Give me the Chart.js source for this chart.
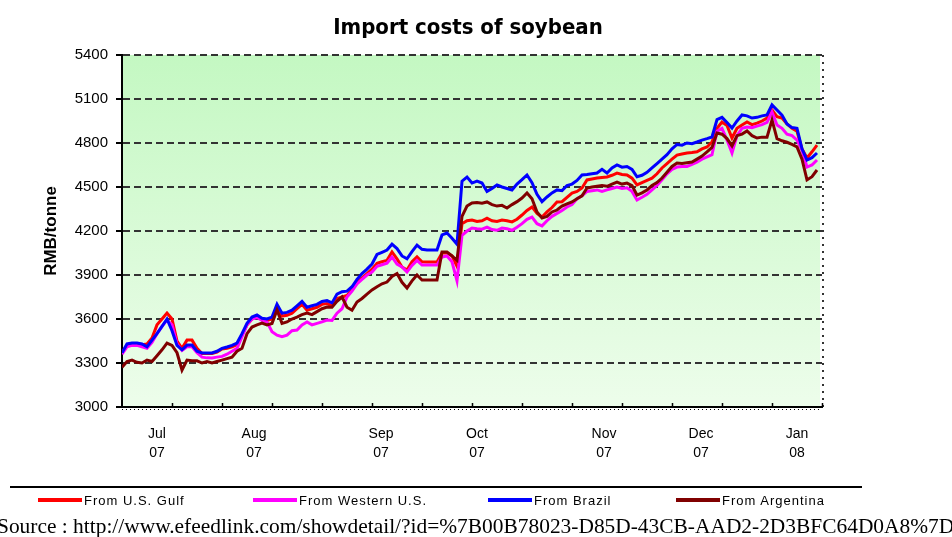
<!DOCTYPE html>
<html>
<head>
<meta charset="utf-8">
<script src="https://cdn.jsdelivr.net/npm/chart.js@4/dist/chart.umd.min.js"></script>
<style>
html,body{margin:0;padding:0;background:#fff;}
#wrap{position:relative;width:952px;height:537px;overflow:hidden;background:#fff;}
#c{position:absolute;left:0;top:0;}
#title{position:absolute;top:14px;left:0;width:936px;text-align:center;line-height:26px;font-weight:bold;font-size:22px;font-family:"DejaVu Sans Condensed","DejaVu Sans",sans-serif;color:#000;white-space:nowrap;}
#sep{position:absolute;left:10px;top:486px;width:852px;height:2px;background:#000;}
.lg{position:absolute;top:492px;height:16px;display:flex;align-items:center;font-family:"Liberation Sans",Arial,sans-serif;font-size:13px;letter-spacing:1px;color:#000;white-space:nowrap;}
.lg span.ln{display:inline-block;width:44px;height:4px;margin-right:2px;}
#src{position:absolute;left:-3px;top:516px;font-family:"Liberation Serif","Times New Roman",serif;font-size:18px;line-height:20px;white-space:nowrap;color:#000;}
</style>
</head>
<body>
<div id="wrap">
  <canvas id="c" width="952" height="537"></canvas>
  <div id="title">Import costs of soybean</div>
  <div id="sep"></div>
  <div id="legend"></div>
  <div id="src">Source : http://www.efeedlink.com/showdetail/?id=%7B00B78023-D85D-43CB-AAD2-2D3BFC64D0A8%7D</div>
</div>
<script>
// ---- data (RMB/tonne, trading-day samples from late June 2007 to early Jan 2008) ----
const seriesNames = ["From U.S. Gulf", "From Western U.S.", "From Brazil", "From Argentina"];
const seriesColors = ["#ff0000", "#ff00ff", "#0000ff", "#800000"];

const usGulf = [
3370,3420,3430,3430,3425,3430,3470,3560,3600,3640,
3600,3450,3400,3456,3456,3400,3365,3365,3365,3375,
3395,3400,3410,3425,3490,3560,3600,3615,3595,3590,
3600,3680,3620,3625,3640,3670,3700,3660,3670,3680,
3700,3705,3690,3740,3750,3760,3800,3850,3880,3910,
3940,3980,3990,4000,4057,4010,3955,3934,3990,4023,
3990,3989,3989,3989,4050,4050,4030,3960,4250,4270,
4275,4265,4270,4288,4270,4265,4275,4270,4262,4280,
4309,4340,4364,4320,4295,4330,4360,4398,4400,4430,
4459,4470,4493,4548,4555,4561,4565,4568,4580,4595,
4585,4582,4560,4514,4530,4545,4560,4590,4630,4660,
4690,4718,4725,4732,4735,4740,4760,4773,4807,4900,
4943,4920,4834,4900,4923,4943,4925,4935,4950,4970,
5025,4980,4970,4930,4900,4880,4760,4698,4740,4786];

const westernUS = [
3360,3410,3420,3420,3410,3400,3440,3500,3550,3593,
3560,3430,3385,3410,3410,3370,3340,3335,3334,3340,
3345,3360,3380,3400,3480,3560,3600,3610,3590,3580,
3513,3490,3480,3490,3520,3525,3560,3580,3560,3570,
3580,3593,3590,3640,3670,3750,3790,3840,3870,3900,
3920,3960,3970,3980,4023,3975,3955,3920,3965,4000,
3968,3968,3968,3968,4023,4030,3990,3860,4170,4200,
4220,4215,4212,4227,4210,4205,4220,4215,4205,4225,
4250,4280,4295,4250,4235,4270,4300,4320,4340,4364,
4380,4420,4440,4470,4475,4480,4470,4480,4490,4500,
4490,4495,4470,4411,4430,4450,4480,4510,4550,4590,
4620,4636,4640,4640,4655,4670,4690,4705,4720,4880,
4900,4820,4732,4850,4900,4909,4905,4915,4925,4940,
5011,4923,4900,4860,4850,4820,4750,4636,4650,4684];

const brazil = [
3370,3430,3436,3436,3430,3410,3456,3500,3550,3600,
3520,3420,3390,3422,3422,3380,3368,3368,3368,3380,
3400,3409,3420,3436,3500,3570,3613,3627,3605,3600,
3613,3700,3640,3645,3660,3690,3720,3680,3690,3700,
3720,3725,3710,3770,3786,3790,3820,3870,3910,3940,
3975,4040,4055,4070,4110,4080,4030,4010,4060,4104,
4075,4070,4070,4070,4173,4186,4150,4110,4540,4568,
4527,4540,4527,4470,4490,4514,4500,4490,4480,4520,
4550,4582,4530,4450,4400,4432,4460,4480,4475,4510,
4520,4545,4582,4585,4590,4595,4620,4595,4630,4650,
4635,4640,4620,4570,4580,4600,4630,4660,4690,4720,
4760,4790,4785,4800,4795,4807,4820,4830,4841,4960,
4975,4940,4902,4950,4991,4985,4970,4975,4985,4991,
5060,5025,4990,4930,4905,4900,4760,4684,4700,4732];

const argentina = [
3270,3310,3320,3305,3300,3320,3310,3350,3390,3436,
3420,3370,3252,3320,3315,3315,3300,3310,3300,3310,
3320,3330,3340,3380,3400,3500,3545,3560,3572,3560,
3570,3661,3570,3580,3600,3613,3630,3640,3630,3650,
3670,3682,3680,3720,3750,3680,3660,3716,3740,3770,
3798,3820,3840,3852,3890,3910,3850,3811,3860,3900,
3866,3866,3866,3866,4057,4057,4030,4000,4300,4370,
4391,4395,4390,4398,4380,4370,4375,4357,4380,4400,
4425,4459,4420,4330,4288,4300,4330,4343,4370,4385,
4398,4420,4440,4493,4500,4505,4510,4505,4520,4534,
4520,4527,4510,4445,4460,4480,4510,4530,4561,4600,
4640,4664,4660,4665,4670,4690,4711,4740,4770,4868,
4860,4830,4780,4850,4861,4882,4850,4834,4840,4840,
4957,4830,4815,4805,4790,4773,4690,4548,4570,4616];

// month tick positions (in sample index units) and labels
const monthTickPos = [7, 26.4, 51.8, 71, 96.4, 115.8, 135];
const monthLabels = [["Jul","07"],["Aug","07"],["Sep","07"],["Oct","07"],["Nov","07"],["Dec","07"],["Jan","08"]];
const yTicks = [3000,3300,3600,3900,4200,4500,4800,5100,5400];
const xMinorTicks = [10,20,30,40,50,60,70,80,90,100,110,120,130,140];

// ---- build ----
const sampleIndex = usGulf.map((_, i) => i);
const allSeries = [usGulf, westernUS, brazil, argentina];
const drawOrder = [3, 2, 1, 0]; // Argentina on top

const bgPlugin = {
  id: 'bg',
  beforeDraw(chart) {
    const {ctx, chartArea: a} = chart;
    const g = ctx.createLinearGradient(0, a.top, 0, a.bottom);
    g.addColorStop(0, '#c4f8c2');
    g.addColorStop(1, '#edfdeb');
    ctx.save();
    ctx.fillStyle = g;
    ctx.fillRect(a.left, a.top, a.right - a.left - 2, a.bottom - a.top);
    ctx.restore();
  },
  afterDraw(chart) {
    const {ctx, chartArea: a} = chart;
    const xs = chart.scales.x;
    ctx.save();
    ctx.strokeStyle = '#333';
    ctx.lineWidth = 2;
    ctx.setLineDash([2, 5]);
    ctx.beginPath();
    ctx.moveTo(a.right + 1, a.top);
    ctx.lineTo(a.right + 1, a.bottom);
    ctx.stroke();
    // small tick marks along the bottom axis
    ctx.setLineDash([]);
    ctx.strokeStyle = '#000';
    ctx.lineWidth = 1.5;
    ctx.beginPath();
    xMinorTicks.forEach(v => {
      const px = Math.round(xs.getPixelForValue(v)) + 0.5;
      ctx.moveTo(px, a.bottom - 4);
      ctx.lineTo(px, a.bottom);
    });
    ctx.stroke();
    // fine dotted line just below the axis
    ctx.lineWidth = 1;
    ctx.setLineDash([1, 3]);
    ctx.beginPath();
    ctx.moveTo(a.left, a.bottom + 2.5);
    ctx.lineTo(a.right, a.bottom + 2.5);
    ctx.stroke();
    ctx.restore();
  }
};

new Chart(document.getElementById('c'), {
  type: 'line',
  data: {
    labels: sampleIndex,
    datasets: allSeries.map((d, i) => ({
      label: seriesNames[i],
      data: d,
      borderColor: seriesColors[i],
      backgroundColor: seriesColors[i],
      borderWidth: 3,
      pointRadius: 0,
      tension: 0,
      fill: false,
      order: drawOrder[i]
    }))
  },
  options: {
    responsive: false,
    animation: false,
    devicePixelRatio: 1,
    layout: { padding: { left: 0, right: 130, top: 55, bottom: 0 } },
    plugins: {
      legend: { display: false },
      title: { display: false },
      tooltip: { enabled: false }
    },
    scales: {
      x: {
        type: 'linear',
        min: 0,
        max: 140,
        afterFit(scale) { scale.height = 130; },
        afterBuildTicks(scale) { scale.ticks = monthTickPos.map(v => ({ value: v })); },
        grid: { display: false, drawTicks: false },
        border: { display: true, color: '#000', width: 2 },
        ticks: {
          autoSkip: false,
          maxRotation: 0,
          padding: 18,
          color: '#000',
          font: { family: 'Liberation Sans, Arial, sans-serif', size: 14, lineHeight: 1.35 },
          callback: (v, i) => monthLabels[i]
        }
      },
      y: {
        min: 3000,
        max: 5400,
        afterFit(scale) { scale.width = 122; },
        afterBuildTicks(scale) { scale.ticks = yTicks.map(v => ({ value: v })); },
        grid: {
          color: ctx => (ctx.tick && ctx.tick.value === 3000) ? 'rgba(0,0,0,0)' : '#333',
          lineWidth: 2,
          drawTicks: true,
          tickLength: 6,
          tickColor: '#000',
          tickWidth: 2,
          tickBorderDash: []
        },
        border: { display: true, color: '#000', width: 2, dash: [7, 4] },
        ticks: {
          padding: 8,
          color: '#000',
          font: { family: 'Liberation Sans, Arial, sans-serif', size: 15 },
          callback: v => String(v)
        },
        title: {
          display: true,
          text: 'RMB/tonne',
          color: '#000',
          font: { family: 'Liberation Sans, Arial, sans-serif', size: 17, weight: 'bold' },
          padding: { top: 41, bottom: 0 }
        }
      }
    }
  },
  plugins: [bgPlugin]
});

// ---- legend (HTML) ----
const legendLeft = [38, 253, 488, 676];
const legendEl = document.getElementById('legend');
seriesNames.forEach((n, i) => {
  const d = document.createElement('div');
  d.className = 'lg';
  d.style.left = legendLeft[i] + 'px';
  const s = document.createElement('span');
  s.className = 'ln';
  s.style.background = seriesColors[i];
  d.appendChild(s);
  d.appendChild(document.createTextNode(n));
  legendEl.appendChild(d);
});

// fit source text width to the page
const src = document.getElementById('src');
const w = src.getBoundingClientRect().width;
src.style.fontSize = (18 * 958 / w).toFixed(2) + 'px';
</script>
</body>
</html>
